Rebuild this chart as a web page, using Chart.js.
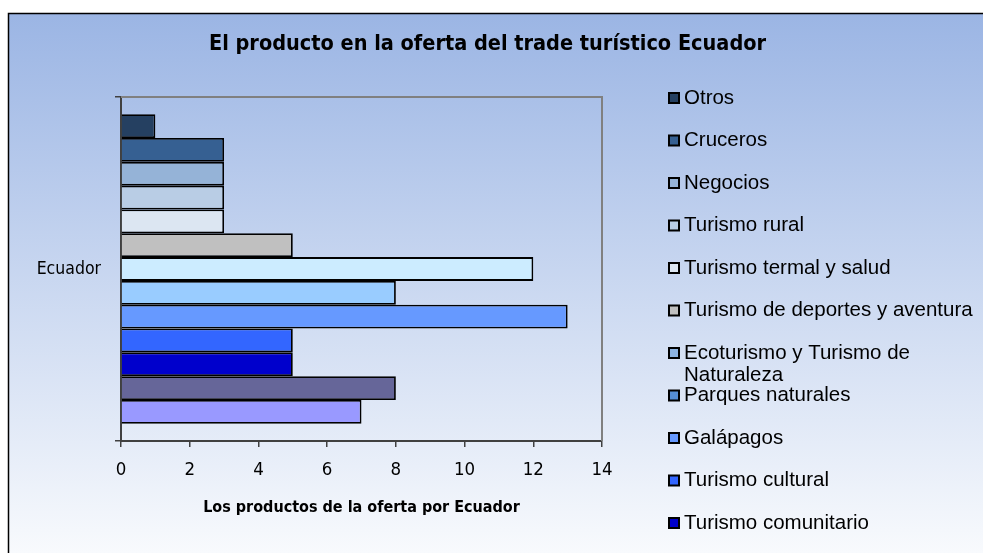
<!DOCTYPE html>
<html><head><meta charset="utf-8">
<script src="https://cdn.jsdelivr.net/npm/chart.js@4/dist/chart.umd.min.js"></script>
<style>html,body{margin:0;padding:0;background:#fff}#wrap{width:983px;height:553px;position:relative}</style>
</head><body><div id="wrap"><canvas id="c" width="983" height="553"></canvas></div>
<script>
const categories = ['Ecuador'];
const seriesNames = ['Otros','Cruceros','Negocios','Turismo rural','Turismo termal y salud','Turismo de deportes y aventura','Ecoturismo y Turismo de Naturaleza','Parques naturales','Galápagos','Turismo cultural','Turismo comunitario','',''];
const seriesValues = [1,3,3,3,3,5,12,8,13,5,5,8,7];
const xTickMin = 0, xTickMax = 14, xTickStep = 2;
const chartTitle = 'El producto en la oferta del trade turístico Ecuador';
const xAxisTitle = 'Los productos de la oferta por Ecuador';

const barColors = ['#254061','#366092','#95b3d7','#b9cde5','#dce6f2','#c0c0c0','#ccecff','#99ccff','#6699ff','#3366ff','#0000cc','#666699','#9999ff'];
const legendColors = ['#254061','#366092','#95b3d7','#b9cde5','#dce6f2','#c0c0c0','#8db4e2','#558ed5','#6699ff','#3366ff','#0000cc','#666699','#9999ff'];

const NARROW = '"Liberation Sans Narrow", "Arial Narrow", "DejaVu Sans Condensed", sans-serif';
const SANS = '"Liberation Sans", Arial, sans-serif';

const framePlugin = {
  id: 'frame',
  beforeDraw(chart) {
    const ctx = chart.ctx;
    ctx.save();
    ctx.fillStyle = '#fff';
    ctx.fillRect(0, 0, chart.width, chart.height);
    const g = ctx.createLinearGradient(0, 13, 0, chart.height);
    g.addColorStop(0, '#9bb5e4');
    g.addColorStop(1, '#f8fafd');
    ctx.fillStyle = g;
    ctx.fillRect(8, 13, chart.width - 8, chart.height - 13);
    ctx.strokeStyle = '#000';
    ctx.lineWidth = 1.5;
    ctx.strokeRect(8.5, 13.5, chart.width + 5, chart.height + 5);
    ctx.restore();
  },
  beforeDatasetsDraw(chart) {
    const a = chart.chartArea, ctx = chart.ctx;
    ctx.save();
    ctx.strokeStyle = '#808080';
    ctx.lineWidth = 2;
    ctx.beginPath();
    ctx.moveTo(a.left, a.top);
    ctx.lineTo(a.right, a.top);
    ctx.lineTo(a.right, a.bottom);
    ctx.stroke();
    ctx.restore();
  },
  afterDraw(chart) {
    const ctx = chart.ctx, a = chart.chartArea;
    const x0 = a.right + 67, y0 = 98, step = 42.5, maxW = 296, lh = 22;
    ctx.save();
    ctx.font = '20.5px ' + SANS;
    ctx.textBaseline = 'middle';
    ctx.textAlign = 'left';
    chart.data.datasets.forEach((ds, i) => {
      if (!ds.label) return;
      const y = y0 + i * step;
      ctx.fillStyle = legendColors[i];
      ctx.fillRect(x0, y - 5, 10, 10);
      ctx.strokeStyle = '#000';
      ctx.lineWidth = 2;
      ctx.strokeRect(x0, y - 5, 10, 10);
      ctx.fillStyle = '#000';
      const words = ds.label.split(' ');
      const lines = [];
      let cur = '';
      words.forEach(w => {
        const t = cur ? cur + ' ' + w : w;
        if (ctx.measureText(t).width > maxW && cur) { lines.push(cur); cur = w; } else cur = t;
      });
      lines.push(cur);
      lines.forEach((ln, k) => ctx.fillText(ln, x0 + 15, y + k * lh));
    });
    ctx.restore();
  }
};

const datasets = seriesValues.map((v, i) => ({
  label: seriesNames[i],
  data: [v],
  backgroundColor: barColors[i],
  borderColor: '#000',
  borderWidth: 1.8,
  barPercentage: 1,
  categoryPercentage: 0.9
}));

new Chart(document.getElementById('c'), {
  type: 'bar',
  data: { labels: categories, datasets },
  plugins: [framePlugin],
  options: {
    indexAxis: 'y',
    responsive: false,
    animation: false,
    layout: { padding: { top: 13, left: 0, right: 8, bottom: 0 } },
    plugins: {
      legend: { display: false },
      tooltip: { enabled: false },
      title: {
        display: true, text: chartTitle, color: '#000',
        font: { family: NARROW, size: 21.5, weight: 'bold', lineHeight: 1.2 },
        padding: { top: 18.6, bottom: 39.6 }
      }
    },
    scales: {
      x: {
        type: 'linear', position: 'bottom', min: xTickMin, max: xTickMax,
        ticks: { stepSize: xTickStep, color: '#000', font: { family: NARROW, size: 18.5, lineHeight: 1.2 }, padding: 12 },
        grid: { drawOnChartArea: false, tickLength: 6, color: '#404040', lineWidth: 1.5 },
        border: { color: '#404040', width: 2 },
        title: { display: true, text: xAxisTitle, color: '#000', font: { family: NARROW, size: 16, weight: 'bold', lineHeight: 1.2 }, padding: { top: 0, bottom: 35.4 } },
        afterFit(s) { s.height = 112; }
      },
      y: {
        type: 'category', position: 'left',
        ticks: { color: '#000', font: { family: NARROW, size: 17.5 }, padding: 14 },
        grid: { drawOnChartArea: false, tickLength: 6, color: '#404040', lineWidth: 1.5, offset: true },
        border: { color: '#404040', width: 2 },
        afterFit(s) { s.width = 121; }
      },
      yr: {
        type: 'linear', position: 'right', display: true,
        grid: { display: false }, ticks: { display: false }, border: { display: false },
        afterFit(s) { s.width = 373; }
      }
    }
  }
});
</script>
</body></html>
